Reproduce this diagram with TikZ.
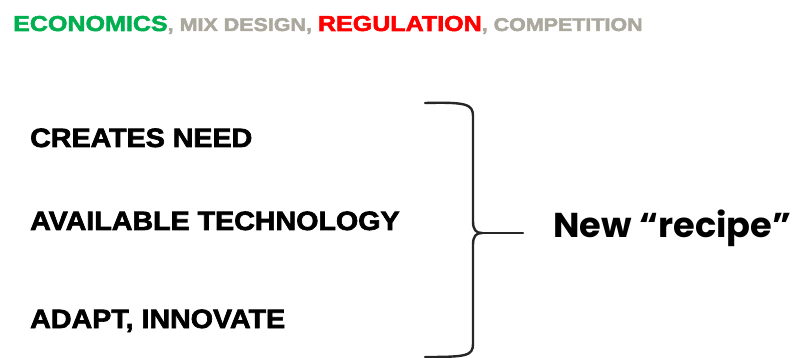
\documentclass[tikz,border=0pt]{standalone}
\usepackage{fontspec}
\setmainfont{Liberation Sans}
\newfontfamily\headfont{Liberation Sans}[FakeStretch=1.16,FakeBold=2.5]
\newfontfamily\itemfont{Liberation Sans}[FakeStretch=1.08,FakeBold=2.5]
\newfontfamily\recipefont{Poppins}[FakeStretch=1.02]
\usepackage{xcolor}
\usepackage{tikz}
\usetikzlibrary{arrows, positioning}
\definecolor{econgreen}{HTML}{00B050}
\definecolor{reggray}{HTML}{ABA89E}
\definecolor{regred}{HTML}{FF0000}

\begin{document}
\begin{tikzpicture}[x=1pt,y=-1pt,
  item/.style={draw=none,anchor=base west,inner sep=0pt,font=\itemfont\bfseries\fontsize{26.5}{30}\selectfont},
  brace/.style={-,line width=2.4pt,color=black!85,line cap=round,line join=round}]
\useasboundingbox (0,0) rectangle (798,358);
% heading
\node[draw=none,anchor=base west,inner sep=0pt,font=\headfont\bfseries] (H) at (13,31)
  {\fontsize{21.6}{24}\selectfont\color{econgreen}ECONOMICS\fontsize{18.5}{21}\selectfont\color{reggray}, MIX DESIGN, \fontsize{21.6}{24}\selectfont\color{regred}REGULATION\fontsize{18.5}{21}\selectfont\color{reggray}, COMPETITION};
% the three factors
\node[item] (N1) at (30,147) {CREATES NEED};
\node[item] (N2) at (30,230) {AVAILABLE TECHNOLOGY};
\node[item] (N3) at (30,328) {ADAPT, INNOVATE};
% brace
\coordinate (T) at (425,103);
\coordinate (B) at (425,357);
\coordinate (tip) at (482,233);
\coordinate (stub) at (523,233);
\draw[brace] (T) .. controls (466,102) and (473,104) .. (473,116) -- (473,221)
  .. controls (473,230) and (476,233) .. (tip)
  .. controls (476,233) and (473,236) .. (473,245) -- (473,344)
  .. controls (473,356) and (466,357) .. (B);
\draw[brace] (tip)--(stub);
\node[draw=none,anchor=base west,inner sep=0pt,font=\recipefont\bfseries\fontsize{34.5}{38}\selectfont] (R) at (553,237) {New “recipe”};
\end{tikzpicture}
\end{document}
